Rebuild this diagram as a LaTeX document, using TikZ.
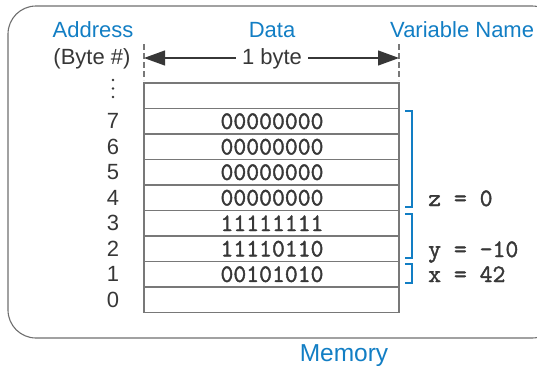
\documentclass[tikz,border=0pt]{standalone}
\usepackage{fontspec}
\setmainfont{Liberation Sans}
\newfontfamily\codefont[FakeBold=1.6]{Latin Modern Mono}
\usetikzlibrary{arrows.meta}
\definecolor{mblue}{RGB}{18,126,196}
\definecolor{txtgray}{RGB}{55,55,55}
\definecolor{linegray}{RGB}{120,120,120}
\definecolor{boxgray}{RGB}{110,110,110}
\tikzset{
  lbl/.style={font=\fontsize{22}{24}\selectfont, text=mblue, inner sep=0pt},
  addr/.style={font=\fontsize{22}{24}\selectfont, text=txtgray, inner sep=0pt},
  bits/.style={font=\fontsize{25}{27}\selectfont\codefont, text=txtgray, inner sep=0pt},
  varname/.style={font=\fontsize{25}{27}\selectfont\codefont, text=txtgray, inner sep=0pt, anchor=base west},
  cell/.style={draw=linegray, line width=1.1pt},
  brk/.style={draw=mblue, line width=1.6pt},
  guide/.style={draw=linegray, line width=1.1pt, dash pattern=on 6pt off 3pt},
  widtharrow/.style={draw=txtgray, line width=1.1pt, -{Triangle[length=21pt,width=15pt]}},
}
\begin{document}
\begin{tikzpicture}[x=1pt,y=-1pt]
\useasboundingbox (0,0) rectangle (537,365);
% outer rounded frame
\draw[draw=boxgray, line width=1.1pt, rounded corners=28pt] (8,6) rectangle (560,338);
% headers
\node[lbl, anchor=base] (haddr) at (93,37) {Address};
\node[lbl, anchor=base] (hdata) at (272,37) {Data};
\node[lbl, anchor=base west] (hvar) at (390,37) {Variable Name};
\node[addr, anchor=base] (hbyte) at (92,64) {(Byte \#)};
% width guides
\coordinate (gL1) at (144,44); \coordinate (gL2) at (144,80);
\coordinate (gR1) at (399,44); \coordinate (gR2) at (399,80);
\draw[guide] (gL1) -- (gL2);
\draw[guide] (gR1) -- (gR2);
\node[addr, anchor=base, inner xsep=6pt] (onebyte) at (272,64) {1 byte};
\coordinate (aL) at (144,58);
\coordinate (aR) at (399,58);
\draw[widtharrow] (onebyte.west |- aL) -- (aL);
\draw[widtharrow] (onebyte.east |- aR) -- (aR);
% memory table
\coordinate (tTL) at (144,83);
\coordinate (tBR) at (399,312.5);
\draw[cell] (tTL) rectangle (tBR);
\foreach \i in {1,...,8}{
  \draw[cell] (144,83+25.5*\i) -- (399,83+25.5*\i);
}
% ellipsis dots
\foreach \yy in {80,88.5,97}{
  \fill[txtgray] (113,\yy) circle (1.4pt);
}
% addresses and data
\foreach \n/\bitsval [count=\k from 1] in {7/00000000,6/00000000,5/00000000,4/00000000,3/11111111,2/11110110,1/00101010}{
  \node[addr] (a\n) at (113,83+25.5*\k+12.75) {\n};
  \node[bits] (d\n) at (272,83+25.5*\k+12.75) {\bitsval};
}
\node[addr] (a0) at (113,83+25.5*8+12.75) {0};
% brackets
\draw[brk] (405,111) -- (412,111) -- (412,207) -- (405,207);
\draw[brk] (405,214) -- (412,214) -- (412,258) -- (405,258);
\draw[brk] (405,264) -- (412,264) -- (412,283) -- (405,283);
\node[varname] (vz) at (428,206) {z = 0};
\node[varname] (vy) at (428,257) {y = -10};
\node[varname] (vx) at (428,282) {x = 42};
% caption
\node[lbl, anchor=base, font=\fontsize{24.5}{26}\selectfont] (mem) at (344,361) {Memory};
\end{tikzpicture}
\end{document}
